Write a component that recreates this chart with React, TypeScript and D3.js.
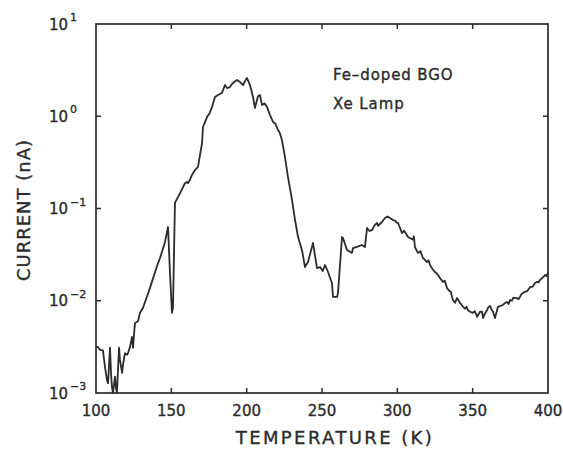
import React from "react";
import * as d3 from "d3";

// main trace
const temperatureK: number[] = [
  100, 101.3, 102.7, 104.6, 106.0, 107.3, 108.0, 109.3, 110.0, 110.6, 111.3, 111.9, 112.6, 113.3, 113.9,
  114.6, 115.3, 115.9, 117.3, 117.9, 119.2, 120.6, 121.2, 122.6, 123.9, 124.6, 125.2, 125.9, 127.9, 129.2,
  131.2, 135.8, 140.5, 142.5, 145.8, 147.8, 149.1, 150.4, 151.1, 152.4, 155.8, 159.1, 160.4, 161.1, 163.7,
  165.7, 167.7, 170.4, 171.0, 173.7, 177.0, 179.0, 181.0, 183.6, 185.6, 186.9, 188.9, 190.9, 193.6, 195.6,
  197.6, 200.2, 202.2, 204.2, 205.5, 207.5, 208.8, 210.2, 213.5, 215.5, 217.5, 220.8, 223.4, 225.4, 227.4,
  230.1, 232.1, 234.1, 236.7, 238.7, 239.5, 240.7, 244.0, 246.7, 248.7, 250.5, 252.0, 254.0, 256.6, 257.3,
  260.0, 260.6, 263.3, 263.9, 266.6, 269.9, 270.6, 273.2, 276.5, 278.5, 279.9, 283.2, 286.5, 287.2, 289.8,
  291.8, 295.1, 297.1, 299.8, 300.4, 303.1, 306.4, 307.1, 308.4, 310.4, 311.7, 313.7, 317.0, 319.7, 321.7,
  323.7, 325.0, 328.3, 330.3, 333.0, 336.3, 336.9, 338.3, 339.6, 341.6, 343.6, 344.9, 346.9, 348.2, 350.2,
  352.9, 354.9, 356.2, 356.9, 359.5, 360.2, 362.8, 363.5, 364.8, 366.8, 370.1, 371.5, 372.8, 374.8, 376.1,
  378.1, 379.4, 381.4, 383.4, 384.7, 388.1, 391.4, 392.7, 394.7, 396.7, 398.0, 400.0,
];

const currentNA: number[] = [
  3.16e-3, 3.16e-3, 2.93e-3, 2.9e-3, 1.9e-3, 1.38e-3, 1.28e-3, 3.1e-3, 1.6e-3, 1.16e-3, 1.0e-3, 1.22e-3, 1.5e-3, 1.13e-3, 1.0e-3,
  1.8e-3, 3.1e-3, 2.3e-3, 1.65e-3, 2.0e-3, 2.7e-3, 2.6e-3, 2.7e-3, 3.16e-3, 4.05e-3, 3.08e-3, 4.26e-3, 5.75e-3, 6.0e-3, 7.4e-3,
  8.4e-3, 1.37e-2, 2.38e-2, 2.91e-2, 4.34e-2, 6.3e-2, 2.0e-2, 7.4e-3, 8.4e-3, 0.115, 0.147, 0.189, 0.194, 0.189, 0.231,
  0.261, 0.282, 0.513, 0.765, 0.98, 1.26, 1.62, 1.70, 1.79, 2.18, 2.02, 2.07, 2.29, 2.47, 2.35,
  2.18, 2.60, 2.18, 1.62, 1.23, 1.65, 1.70, 1.32, 1.26, 1.03, 0.867, 0.71, 0.553, 0.362, 0.22,
  0.124, 0.075, 0.049, 0.0355, 0.0232, 0.0245, 0.0263, 0.0423, 0.0226, 0.0232, 0.021, 0.0244, 0.0205, 0.0156, 0.011,
  0.011, 0.0121, 0.0491, 0.0479, 0.0355, 0.033, 0.0373, 0.0383, 0.0402, 0.0383, 0.0615, 0.0584, 0.0697, 0.065, 0.0714,
  0.0788, 0.0788, 0.075, 0.0697, 0.07, 0.0542, 0.0512, 0.049, 0.0479, 0.046, 0.038, 0.033, 0.0291, 0.0263, 0.0244,
  0.0216, 0.0205, 0.0176, 0.016, 0.0137, 0.011, 0.0102, 0.0095, 0.0107, 0.0095, 0.0086, 0.0082, 0.0079, 0.0076, 0.0074,
  0.0067, 0.0076, 0.0076, 0.0065, 0.0079, 0.0084, 0.0079, 0.0076, 0.0065, 0.0086, 0.009, 0.0095, 0.0097, 0.0102, 0.010,
  0.0107, 0.0107, 0.011, 0.0121, 0.0125, 0.0141, 0.0156, 0.016, 0.0168, 0.018, 0.019, 0.020,
];

// extra small wiggles
const wiggleTemperatureK: number[] = [
  162.4, 175.4, 189.9, 192.3, 199.0, 211.8, 219.0, 222.0, 281.5, 285.0, 293.5, 298.5,
  304.5, 311.0, 315.3, 320.7, 326.5, 331.5, 334.5, 335.5, 345.9, 351.5, 358.0, 361.5,
  368.5, 373.8, 377.0, 380.4, 382.4, 386.4, 389.8, 393.7, 397.4, 399.0,
];
const wiggleCurrentNA: number[] = [
  0.205, 1.08, 2.2, 2.38, 2.42, 1.38, 0.83, 0.66, 0.057, 0.066, 0.082, 0.074,
  0.0575, 0.05, 0.0345, 0.0275, 0.0195, 0.0165, 0.0128, 0.0125, 0.0086, 0.0077, 0.0072, 0.0088,
  0.0088, 0.0092, 0.0108, 0.0104, 0.0118, 0.0128, 0.0142, 0.0158, 0.0185, 0.0185,
];

const xTicks: number[] = [100, 150, 200, 250, 300, 350, 400];
const yTickExponents: number[] = [-3, -2, -1, 0, 1];
const annotationLines: string[] = ["Fe\u2013doped BGO", "Xe Lamp"];
const xTitle = "TEMPERATURE (K)";
const yTitle = "CURRENT (nA)";

const W = 563;
const H = 453;
const L = 96, R = 548, T = 24, B = 393;
const INK = "#2b2b2b";
const FONT = "'DejaVu Sans', 'Liberation Sans', sans-serif";

export default function App() {
  const x = d3.scaleLinear().domain([100, 400]).range([L, R]);
  const y = d3.scaleLog().domain([1e-3, 10]).range([B, T]);
  const pts = temperatureK
    .map((t, i) => [t, currentNA[i]] as [number, number])
    .concat(wiggleTemperatureK.map((t, i) => [t, wiggleCurrentNA[i]] as [number, number]))
    .sort((a, b) => a[0] - b[0]);
  const line = d3
    .line<[number, number]>()
    .x((d) => x(d[0]))
    .y((d) => y(d[1]));
  const tickLen = 5;
  const textStroke = { stroke: INK, strokeWidth: 0.35 };

  return (
    <svg
      width={W}
      height={H}
      style={{ position: "absolute", left: 0, top: 0, background: "#fff", display: "block" }}
    >
      <rect x={0} y={0} width={W} height={H} fill="#fff" />
      <rect x={L} y={T} width={R - L} height={B - T} fill="none" stroke={INK} strokeWidth={1.7} />
      {xTicks.slice(1, -1).map((t) => (
        <g key={"xt" + t}>
          <line x1={x(t)} x2={x(t)} y1={B} y2={B - tickLen} stroke={INK} strokeWidth={1.5} />
          <line x1={x(t)} x2={x(t)} y1={T} y2={T + tickLen} stroke={INK} strokeWidth={1.5} />
        </g>
      ))}
      {xTicks.map((t) => (
        <text key={"xl" + t} x={x(t)} y={416} textAnchor="middle" fontFamily={FONT} fontSize={15} fill={INK} {...textStroke}>
          {t}
        </text>
      ))}
      {yTickExponents.slice(1, -1).map((e) => (
        <g key={"yt" + e}>
          <line x1={L} x2={L + tickLen} y1={y(Math.pow(10, e))} y2={y(Math.pow(10, e))} stroke={INK} strokeWidth={1.5} />
          <line x1={R} x2={R - tickLen} y1={y(Math.pow(10, e))} y2={y(Math.pow(10, e))} stroke={INK} strokeWidth={1.5} />
        </g>
      ))}
      {yTickExponents.map((e) => {
        const yy = y(Math.pow(10, e));
        return (
          <g key={"yl" + e} fontFamily={FONT} fill={INK} {...textStroke}>
            <text x={68} y={yy + 5.5} textAnchor="end" fontSize={15}>
              10
            </text>
            <text x={70} y={yy - 3} textAnchor="start" fontSize={11}>
              {e < 0 ? "\u2212" + Math.abs(e) : String(e)}
            </text>
          </g>
        );
      })}
      <path d={line(pts) || ""} fill="none" stroke={INK} strokeWidth={1.8} strokeLinejoin="round" />
      {annotationLines.map((s, i) => (
        <text key={"an" + i} x={333} y={80 + i * 29} fontFamily={FONT} fontSize={15} letterSpacing={0.9} fill={INK} {...textStroke}>
          {s}
        </text>
      ))}
      <text
        x={(L + R) / 2 + 13}
        y={444}
        textAnchor="middle"
        fontFamily={FONT}
        fontSize={18}
        letterSpacing={2.4}
        fill={INK}
        {...textStroke}
      >
        {xTitle}
      </text>
      <text
        transform={`translate(30, 210) rotate(-90)`}
        textAnchor="middle"
        fontFamily={FONT}
        fontSize={18}
        letterSpacing={1}
        fill={INK}
        {...textStroke}
      >
        {yTitle}
      </text>
    </svg>
  );
}
